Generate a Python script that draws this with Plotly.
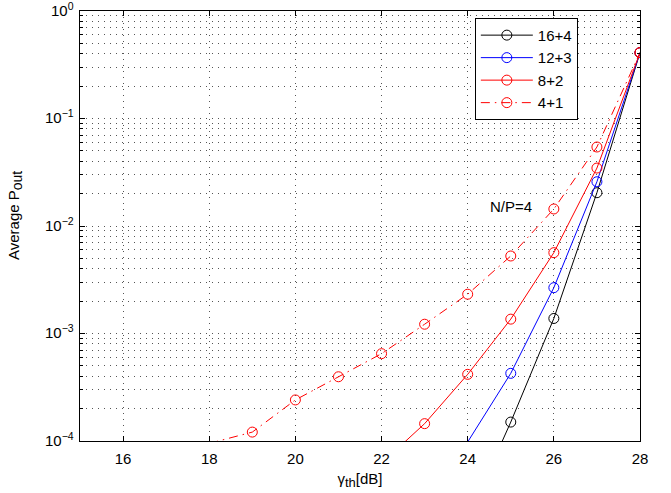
import numpy as np
import plotly.graph_objects as go

# ---- data ----
x_16_4 = [24, 25, 26, 27, 28]
p_16_4 = [1.9e-5, 1.5e-4, 1.38e-3, 2.04e-2, 0.41]

x_12_3 = [24, 25, 26, 27, 28]
p_12_3 = [9.8e-5, 4.26e-4, 2.67e-3, 2.58e-2, 0.41]

x_8_2 = [22, 23, 24, 25, 26, 27, 28]
p_8_2 = [6.2e-5, 1.45e-4, 4.17e-4, 1.36e-3, 5.65e-3, 3.46e-2, 0.41]

x_4_1 = [18, 19, 20, 21, 22, 23, 24, 25, 26, 27, 28]
p_4_1 = [9.5e-5, 1.21e-4, 2.41e-4, 3.96e-4, 6.49e-4, 1.22e-3, 2.32e-3, 5.26e-3, 1.44e-2, 5.43e-2, 0.41]

series_names = ["16+4", "12+3", "8+2", "4+1"]
x_ticks = [16, 18, 20, 22, 24, 26, 28]
y_exponents = [-4, -3, -2, -1, 0]
minor_digits = [2, 3, 4, 5, 6, 7, 8, 9]

FONT = "Liberation Sans, Arial, Helvetica, sans-serif"
YMIN = 1e-4

styles = [
    dict(color="black", dash="solid"),
    dict(color="blue", dash="solid"),
    dict(color="red", dash="solid"),
    dict(color="red", dash="9px,5px,1.5px,5px"),
]
data = [(x_16_4, p_16_4), (x_12_3, p_12_3), (x_8_2, p_8_2), (x_4_1, p_4_1)]

fig = go.Figure()
for name, (xs, ys), st in zip(series_names, data, styles):
    xs = np.array(xs, dtype=float)
    ys = np.array(ys, dtype=float)
    fig.add_trace(go.Scatter(x=xs, y=ys, mode="lines", showlegend=False,
                             line=dict(color=st["color"], width=1, dash=st["dash"]),
                             hoverinfo="skip"))
    m = ys >= YMIN
    fig.add_trace(go.Scatter(x=xs[m], y=ys[m], mode="markers", showlegend=False,
                             marker=dict(symbol="circle-open", size=10,
                                         color=st["color"], line=dict(width=1, color=st["color"]))))
    fig.add_trace(go.Scatter(x=[None], y=[None], mode="lines+markers", name=name,
                             line=dict(color=st["color"], width=1, dash=st["dash"]),
                             marker=dict(symbol="circle-open", size=10,
                                         color=st["color"], line=dict(width=1, color=st["color"]))))

# annotation text
fig.add_annotation(x=25.0, y=-1.82, text="N/P=4", showarrow=False,
                   font=dict(family=FONT, size=15, color="black"))

# y tick labels (10^n), placed on the axis scale
for e in y_exponents:
    lab = "10<sup>%s</sup>" % ("−%d" % -e if e < 0 else "%d" % e)
    fig.add_annotation(x=0, xref="paper", y=e, yref="y", text=lab, showarrow=False,
                       xanchor="right", yanchor="middle", xshift=-4, yshift=2,
                       font=dict(family=FONT, size=15, color="black"))

# y axis title
fig.add_annotation(x=0, xref="paper", y=0.5, yref="paper",
                   text="Average P<sub><span style='font-size:14px'>out</span></sub>",
                   showarrow=False, textangle=-90, xanchor="center", yanchor="middle",
                   xshift=-65, yshift=10, font=dict(family=FONT, size=15, color="black"))

grid_dash = "1px,5px"
minor_vals = [d * 10.0 ** e for e in y_exponents[:-1] for d in minor_digits]

fig.update_xaxes(
    range=[15, 28], tickmode="array", tickvals=x_ticks, ticktext=[str(v) for v in x_ticks],
    showline=True, linecolor="black", linewidth=1, mirror="ticks",
    ticks="inside", ticklen=5, tickcolor="black",
    showgrid=True, gridcolor="#555", gridwidth=1, griddash=grid_dash,
    zeroline=False, automargin=False, ticklabelstandoff=4,
    tickfont=dict(family=FONT, size=15, color="black"),
    title=dict(text="γ<sub><span style='font-size:13px'>th</span></sub>[dB]",
               font=dict(family=FONT, size=15, color="black"), standoff=7),
)
fig.update_yaxes(
    type="log", range=[-4, 0], tickmode="array",
    tickvals=[10.0 ** e for e in y_exponents], showticklabels=False,
    showline=True, linecolor="black", linewidth=1, mirror="ticks",
    ticks="inside", ticklen=5, tickcolor="black",
    showgrid=True, gridcolor="#555", gridwidth=1, griddash=grid_dash,
    minor=dict(tickmode="array", tickvals=minor_vals, ticks="inside", ticklen=3,
               tickcolor="black", showgrid=True,
               gridcolor="#555", gridwidth=1, griddash=grid_dash),
    zeroline=False, automargin=False,
)

fig.update_layout(
    width=671, height=493, autosize=False,
    margin=dict(l=80, r=31, t=11, b=52),
    paper_bgcolor="white", plot_bgcolor="white",
    font=dict(family=FONT, size=15, color="black"),
    legend=dict(x=0.889, y=0.984, xanchor="right", yanchor="top",
                bgcolor="white", bordercolor="black", borderwidth=1,
                font=dict(family=FONT, size=15, color="black"),
                itemwidth=52, tracegroupgap=0),
)

fig.write_html("out.html", config={"displayModeBar": False},
               post_script="document.body.style.margin='0px';")
